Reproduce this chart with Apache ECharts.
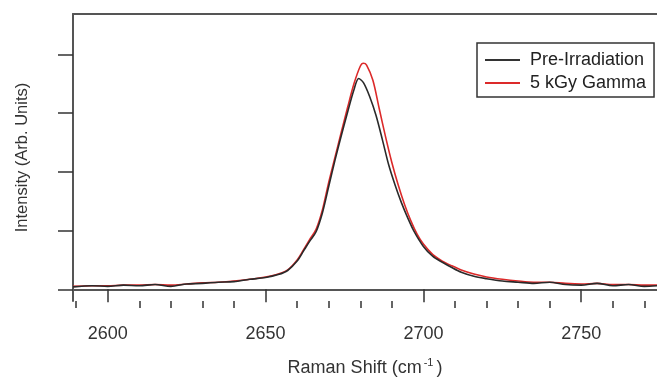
<!DOCTYPE html>
<html>
<head>
<meta charset="utf-8">
<script src="https://cdn.jsdelivr.net/npm/echarts@6/dist/echarts.min.js"></script>
<style>
  html, body { margin: 0; padding: 0; background: #fff; }
  #chart { width: 657px; height: 382px; }
</style>
</head>
<body>
<div id="chart"></div>
<script>
// Raman shift (cm-1) and intensities
const preShift = [2589, 2595, 2600, 2605, 2610, 2615, 2620, 2625, 2630, 2635, 2640, 2645, 2650, 2654, 2657, 2660, 2662, 2664, 2666, 2668, 2670, 2672, 2674, 2676, 2678, 2679.5, 2681, 2683, 2685, 2687, 2689, 2691, 2693, 2695, 2697, 2700, 2703, 2706, 2709, 2712, 2716, 2720, 2725, 2730, 2735, 2740, 2745, 2750, 2755, 2760, 2765, 2770, 2774]
const preIntensity = [0.04, 0.06, 0.05, 0.07, 0.06, 0.08, 0.05, 0.09, 0.10, 0.12, 0.13, 0.17, 0.20, 0.25, 0.32, 0.48, 0.65, 0.82, 0.98, 1.30, 1.75, 2.20, 2.62, 3.02, 3.40, 3.59, 3.52, 3.28, 2.96, 2.55, 2.12, 1.78, 1.48, 1.22, 0.99, 0.73, 0.56, 0.46, 0.37, 0.29, 0.22, 0.18, 0.14, 0.12, 0.10, 0.12, 0.08, 0.07, 0.10, 0.06, 0.08, 0.05, 0.06]

const gammaShift = [2589, 2595, 2600, 2605, 2610, 2615, 2620, 2625, 2630, 2635, 2640, 2645, 2650, 2654, 2657, 2660, 2662, 2664, 2666, 2668, 2670, 2672, 2674, 2676, 2678, 2680, 2681, 2682, 2684, 2686, 2688, 2690, 2692, 2694, 2696, 2698, 2700, 2703, 2706, 2709, 2712, 2716, 2720, 2725, 2730, 2735, 2740, 2745, 2750, 2755, 2760, 2765, 2770, 2774]
const gammaIntensity = [0.05, 0.06, 0.06, 0.07, 0.07, 0.08, 0.07, 0.09, 0.11, 0.12, 0.14, 0.17, 0.21, 0.26, 0.33, 0.50, 0.67, 0.85, 1.02, 1.35, 1.82, 2.25, 2.68, 3.10, 3.50, 3.80, 3.85, 3.82, 3.56, 3.08, 2.60, 2.16, 1.78, 1.45, 1.17, 0.94, 0.77, 0.59, 0.48, 0.40, 0.33, 0.26, 0.21, 0.17, 0.14, 0.12, 0.12, 0.10, 0.09, 0.10, 0.08, 0.08, 0.07, 0.07]

const majorTicks = [2600, 2650, 2700, 2750]
const minorTicks = [2590, 2610, 2620, 2630, 2640, 2660, 2670, 2680, 2690, 2710, 2720, 2730, 2740, 2760, 2770]
const yTicks = [0, 1, 2, 3, 4]

const seriesNames = ['Pre-Irradiation', '5 kGy Gamma']

const pairs = (xs, ys) => xs.map((x, i) => [x, ys[i]])

const axisColor = '#555'
const font = 'Liberation Sans, Arial, sans-serif'

const chart = echarts.init(document.getElementById('chart'))
chart.setOption({
  animation: false,
  backgroundColor: '#fff',
  grid: { left: 73, right: 0, top: 14, bottom: 77 },
  legend: {
    data: seriesNames,
    orient: 'vertical',
    left: 477,
    top: 43,
    padding: [7, 8, 4, 8],
    borderColor: '#333',
    borderWidth: 1.5,
    icon: 'rect',
    itemWidth: 35,
    itemHeight: 2,
    itemGap: 3,
    textStyle: { fontFamily: font, fontSize: 18, color: '#222', lineHeight: 20, padding: [0, 0, 0, 5] },
  },
  xAxis: [
    {
      type: 'value',
      min: 2589,
      max: 2774,
      position: 'bottom',
      name: 'Raman Shift (cm{sup|-1})',
      nameLocation: 'middle',
      nameGap: 56,
      nameTextStyle: {
        fontFamily: font, fontSize: 18, color: '#333',
        rich: { sup: { fontFamily: font, fontSize: 11, color: '#333', verticalAlign: 'top', padding: [0, 3, 11, 2] } },
      },
      axisLine: { show: true, lineStyle: { color: axisColor, width: 2 } },
      axisTick: { show: true, customValues: majorTicks, length: 13, lineStyle: { color: '#333', width: 1.5 } },
      axisLabel: { customValues: majorTicks, margin: 24, fontFamily: font, fontSize: 18, color: '#333', formatter: v => String(v) },
      splitLine: { show: false },
    },
    {
      type: 'value',
      min: 2589,
      max: 2774,
      position: 'bottom',
      axisLine: { show: false },
      axisTick: { show: true, customValues: minorTicks, length: 7, lineStyle: { color: '#333', width: 1.5 } },
      axisLabel: { show: false },
      splitLine: { show: false },
    },
    {
      type: 'value',
      min: 2589,
      max: 2774,
      position: 'top',
      axisLine: { show: true, lineStyle: { color: axisColor, width: 2 } },
      axisTick: { show: false },
      axisLabel: { show: false },
      splitLine: { show: false },
    },
  ],
  yAxis: {
    type: 'value',
    min: -0.2,
    max: 4.69,
    name: 'Intensity (Arb. Units)',
    nameLocation: 'middle',
    nameGap: 42,
    nameTextStyle: { fontFamily: font, fontSize: 16.5, color: '#333' },
    axisLine: { show: true, lineStyle: { color: axisColor, width: 2 } },
    axisTick: { show: true, customValues: yTicks, length: 15, lineStyle: { color: '#333', width: 1.5 } },
    axisLabel: { show: false },
    splitLine: { show: false },
  },
  series: [
    {
      name: seriesNames[1],
      type: 'line',
      data: pairs(gammaShift, gammaIntensity),
      smooth: 0.3,
      symbol: 'none',
      z: 2,
      color: '#dc2a2a',
      lineStyle: { width: 1.6, color: '#dc2a2a' },
    },
    {
      name: seriesNames[0],
      type: 'line',
      data: pairs(preShift, preIntensity),
      smooth: 0.3,
      symbol: 'none',
      z: 3,
      color: '#333',
      lineStyle: { width: 1.6, color: '#2a2a2a' },
    },
  ],
})
</script>
</body>
</html>
